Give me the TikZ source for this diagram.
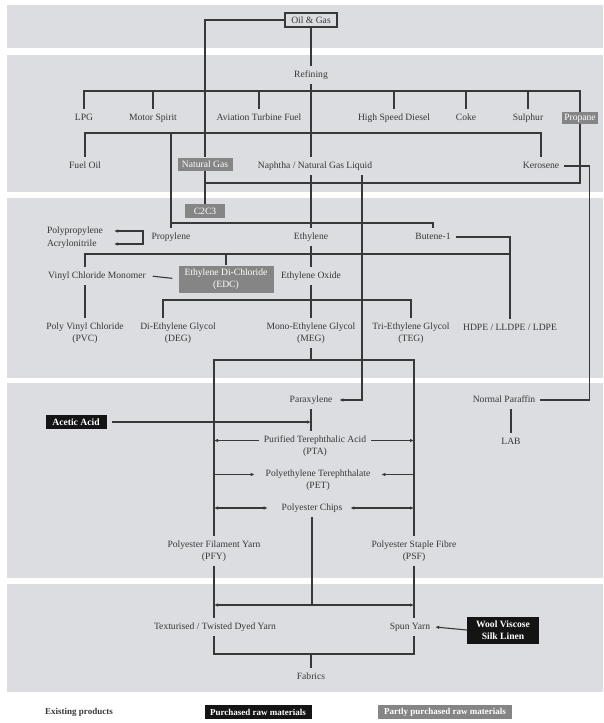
\documentclass[tikz,border=0pt]{standalone}
\usepackage{fontspec}
\setmainfont{Liberation Serif}
\usetikzlibrary{arrows.meta}
\definecolor{bandgray}{HTML}{DCDDE0}
\definecolor{boxgray}{HTML}{858585}
\definecolor{ink}{HTML}{383838}
\begin{document}
\begin{tikzpicture}[x=1pt,y=-1pt,
  txt/.style={text=ink, font=\fontsize{9.6}{11.5}\selectfont, inner sep=2pt, outer sep=3pt, text height=6.5pt, text depth=2pt},
  txt2/.style={text=ink, font=\fontsize{9.6}{11.5}\selectfont, inner sep=2pt, outer sep=3pt, align=center},
  gbox/.style={fill=boxgray, text=white, font=\fontsize{9.6}{11.5}\selectfont, inner sep=1pt, align=center},
  kbox/.style={fill=black!92, text=white, font=\bfseries\fontsize{9.6}{11.5}\selectfont, inner sep=1pt, align=center},
  ln/.style={draw=ink, line width=1.1pt},
  arr/.style={ln, -{Latex[length=4pt,width=3.5pt]}},
  arrs/.style={ln, {Latex[length=4pt,width=3.5pt]}-{Latex[length=4pt,width=3.5pt]}}]
\useasboundingbox (0,0) rectangle (603,723);
\fill[bandgray] (7,5) rectangle (603,48);
\fill[bandgray] (7,55) rectangle (603,192);
\fill[bandgray] (7,198) rectangle (603,378);
\fill[bandgray] (7,383) rectangle (603,578);
\fill[bandgray] (7,584) rectangle (603,692);

\coordinate (b1) at (0,91);
\coordinate (b2) at (0,133);
\coordinate (b9) at (0,183);
\coordinate (b3) at (0,223);
\coordinate (b4) at (0,254);
\coordinate (b5) at (0,300);
\coordinate (b6) at (0,360);
\coordinate (b7) at (0,605);
\coordinate (b8) at (0,654);

\node[txt, draw=ink, line width=1.1pt, outer sep=0pt, minimum width=52pt, minimum height=14pt, text height=, text depth=] (oil) at (311,20) {Oil \& Gas};
\node[txt] (refining) at (311,75) {Refining};

\node[txt] (lpg) at (84,118) {LPG};
\node[txt] (motor) at (153,118) {Motor Spirit};
\node[txt] (atf) at (259,118) {Aviation Turbine Fuel};
\node[txt] (hsd) at (394,118) {High Speed Diesel};
\node[txt] (coke) at (466,118) {Coke};
\node[txt] (sulphur) at (528,118) {Sulphur};
\node[gbox, minimum width=36pt, minimum height=12pt] (propane) at (580,118) {Propane};

\node[txt] (fueloil) at (85,166) {Fuel Oil};
\node[gbox, minimum width=55pt, minimum height=13pt] (natgas) at (205,164) {Natural Gas};
\node[txt] (naphtha) at (315,166) {Naphtha / Natural Gas Liquid};
\node[txt] (kerosene) at (541,166) {Kerosene};

\node[gbox, minimum width=40pt, minimum height=14pt] (c2c3) at (205,211) {C2C3};

\node[txt, anchor=west, text width=62pt, align=left] (polyprop) at (42,231) {Polypropylene};
\node[txt, anchor=west, text width=62pt, align=left] (acrylo) at (42,244) {Acrylonitrile};
\node[txt] (propylene) at (171,237) {Propylene};
\node[txt] (ethylene) at (311,237) {Ethylene};
\node[txt] (butene) at (433,237) {Butene-1};

\node[txt] (vcm) at (97,276) {Vinyl Chloride Monomer};
\node[gbox, minimum width=95pt, minimum height=27pt] (edc) at (226,279) {Ethylene Di-Chloride\\(EDC)};
\node[txt] (eo) at (311,276) {Ethylene Oxide};

\node[txt2] (pvc) at (85,333) {Poly Vinyl Chloride\\(PVC)};
\node[txt2] (deg) at (178,333) {Di-Ethylene Glycol\\(DEG)};
\node[txt2] (meg) at (311,333) {Mono-Ethylene Glycol\\(MEG)};
\node[txt2] (teg) at (411,333) {Tri-Ethylene Glycol\\(TEG)};
\node[txt] (hdpe) at (510,328) {HDPE / LLDPE / LDPE};

\node[txt] (paraxylene) at (311,400) {Paraxylene};
\node[txt] (nparaffin) at (504,400) {Normal Paraffin};
\node[kbox, minimum width=61pt, minimum height=14pt] (acetic) at (76,422) {Acetic Acid};
\node[txt2] (pta) at (315,446) {Purified Terephthalic Acid\\(PTA)};
\node[txt] (lab) at (511,442) {LAB};
\node[txt2] (pet) at (318,480) {Polyethylene Terephthalate\\(PET)};
\node[txt] (chips) at (312,508) {Polyester Chips};
\node[txt2] (pfy) at (214,551) {Polyester Filament Yarn\\(PFY)};
\node[txt2] (psf) at (414,551) {Polyester Staple Fibre\\(PSF)};

\node[txt] (texturised) at (215,627) {Texturised / Twisted Dyed Yarn};
\node[txt] (spun) at (410,627) {Spun Yarn};
\node[kbox, minimum width=72pt, minimum height=27pt] (wool) at (503,630) {Wool Viscose\\Silk Linen};
\node[txt] (fabrics) at (311,677) {Fabrics};

\node[txt, font=\bfseries\fontsize{9}{11}\selectfont] (exist) at (79,712) {Existing products};
\node[kbox, font=\bfseries\fontsize{9}{11}\selectfont, minimum width=107pt, minimum height=14pt] (purch) at (258,712) {Purchased raw materials};
\node[gbox, font=\bfseries\fontsize{9}{11}\selectfont, minimum width=134pt, minimum height=14pt] (partly) at (445,712) {Partly purchased raw materials};

\path[ln] (oil) -- (refining);
\path[ln] (oil.west) -| (natgas.north);
\path[ln] (natgas) -- (c2c3);
\path[ln] (refining.south) -- (refining.south |- naphtha.north);
\path[ln] (lpg.north) -- (lpg.north |- b1) -- (propane.north |- b1) -- (propane.north);
\path[ln] (motor.north) -- (motor.north |- b1);
\path[ln] (atf.north) -- (atf.north |- b1);
\path[ln] (hsd.north) -- (hsd.north |- b1);
\path[ln] (coke.north) -- (coke.north |- b1);
\path[ln] (sulphur.north) -- (sulphur.north |- b1);
\path[ln] (fueloil.north) -- (fueloil.north |- b2) -- (kerosene.north |- b2) -- (kerosene.north);
\path[ln] (propylene.north |- b2) -- (propylene.north);
\path[ln] (propane.south) |- (natgas.south |- b9);
\path[ln] (kerosene.east) -- ++(25,0) |- (nparaffin.east);
\path[ln] (ethylene.north |- naphtha.south) -- (ethylene.north);
\path[arr, shorten >=2pt] ([xshift=47pt]naphtha.south) |- (paraxylene.east);

\path[ln] (propylene.north |- b3) -| (butene.north);
\path[arrs] (polyprop.east) -- ++(29,0) |- (acrylo.east);
\path[ln] (butene.east) -| (hdpe.north);
\path[ln] (ethylene.south) -- (ethylene.south |- b4);
\path[ln] (pvc.north |- vcm.north) -- (pvc.north |- b4) -- (hdpe.north |- b4);
\path[ln] (edc.north) -- (edc.north |- b4);
\path[ln] (eo.north) -- (eo.north |- b4);
\path[ln, shorten >=6pt, shorten <=2pt] (vcm.east) -- (edc.west);
\path[ln] (pvc.north |- vcm.south) -- (pvc.north);
\path[ln] (eo.south) -- (meg.north);
\path[ln] ([xshift=-15pt]deg.north) -- ([xshift=-15pt]deg.north |- b5) -- (teg.north |- b5) -- (teg.north);
\path[ln] (meg.south) -- (meg.south |- b6);
\path[ln] (pfy.north) -- (pfy.north |- b6) -- (psf.north |- b6) -- (psf.north);

\path[ln] (paraxylene.south) -- (paraxylene.south |- pta.north);
\path[arr, shorten <=5pt] (acetic.east) -- (paraxylene.south |- acetic.east);
\path[arr] ([yshift=5.5pt]pta.west) -- ([yshift=5.5pt]pta.west -| pfy.north);
\path[arr] ([yshift=5.5pt]pta.east) -- ([yshift=5.5pt]pta.east -| psf.north);
\path[arr, shorten >=6pt] ([yshift=5.5pt]pet.west -| pfy.north) -- ([yshift=5.5pt]pet.west);
\path[arr, shorten >=6pt] ([yshift=5.5pt]pet.east -| psf.north) -- ([yshift=5.5pt]pet.east);
\path[arrs, shorten >=9pt] (chips.west -| pfy.north) -- (chips.west);
\path[arrs, shorten <=3pt] (chips.east) -- (chips.east -| psf.north);
\path[ln] (lab.north |- nparaffin.south) -- (lab.north);

\path[ln] (chips.south) -- (chips.south |- b7);
\path[arrs] (pfy.south |- b7) -- (psf.south |- b7);
\path[ln] (pfy.south) -- (pfy.south |- texturised.north);
\path[ln] (psf.south) -- (psf.south |- spun.north);
\path[arr] (wool.west) -- (spun.east);
\path[ln] (pfy.south |- texturised.south) -- (pfy.south |- b8) -- (psf.south |- b8) -- (psf.south |- spun.south);
\path[ln] (fabrics.north |- b8) -- (fabrics.north);
\end{tikzpicture}
\end{document}
